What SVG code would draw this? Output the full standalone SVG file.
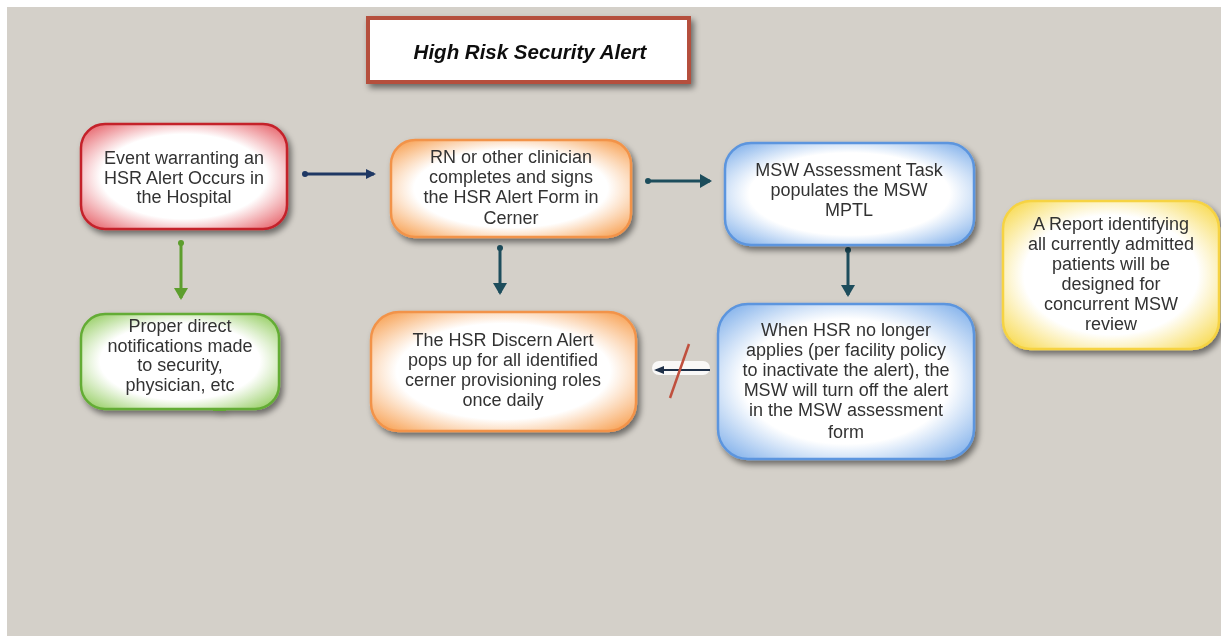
<svg xmlns="http://www.w3.org/2000/svg" width="1221" height="636" viewBox="0 0 1221 636">
<defs>
<style>
.t{font-family:"Liberation Sans",Arial,sans-serif;font-size:18px;fill:#333;text-anchor:middle}
.ti{font-family:"Liberation Sans",Arial,sans-serif;font-size:20.5px;font-weight:bold;font-style:italic;fill:#111;text-anchor:middle}
.box{stroke-width:2.5}
</style>
<filter id="sh" x="-20%" y="-20%" width="140%" height="150%">
<feGaussianBlur in="SourceAlpha" stdDeviation="3"/>
<feOffset dx="3" dy="4" result="b"/>
<feComponentTransfer><feFuncA type="linear" slope="0.5"/></feComponentTransfer>
<feMerge><feMergeNode/><feMergeNode in="SourceGraphic"/></feMerge>
</filter>
<radialGradient id="gr" cx="50%" cy="50%" r="65%"><stop offset="0.62" stop-color="#fff"/><stop offset="1" stop-color="#e86c73"/></radialGradient>
<radialGradient id="go" cx="50%" cy="50%" r="65%"><stop offset="0.62" stop-color="#fff"/><stop offset="1" stop-color="#f8a75e"/></radialGradient>
<radialGradient id="gb" cx="50%" cy="50%" r="65%"><stop offset="0.62" stop-color="#fff"/><stop offset="1" stop-color="#8ab6ec"/></radialGradient>
<radialGradient id="gg" cx="50%" cy="50%" r="65%"><stop offset="0.62" stop-color="#fff"/><stop offset="1" stop-color="#9bd06b"/></radialGradient>
<radialGradient id="gy" cx="50%" cy="50%" r="65%"><stop offset="0.62" stop-color="#fff"/><stop offset="1" stop-color="#f8dc5a"/></radialGradient>
<marker id="an" markerWidth="10" markerHeight="10" refX="8" refY="5" orient="auto" markerUnits="userSpaceOnUse"><path d="M0,0 L10,5 L0,10 z" fill="#1f3864"/></marker>
<marker id="at" markerWidth="14" markerHeight="14" refX="10" refY="7" orient="auto" markerUnits="userSpaceOnUse"><path d="M0,0 L12,7 L0,14 z" fill="#1d4d5c"/></marker>
<marker id="ag" markerWidth="14" markerHeight="14" refX="10" refY="7" orient="auto" markerUnits="userSpaceOnUse"><path d="M0,0 L12,7 L0,14 z" fill="#5d9e2d"/></marker>
<marker id="ak" markerWidth="10" markerHeight="10" refX="8" refY="5" orient="auto" markerUnits="userSpaceOnUse"><path d="M0,1 L10,5 L0,9 z" fill="#1f3048"/></marker>
</defs>
<rect x="0" y="0" width="1221" height="636" fill="#fff"/>
<rect x="7" y="7" width="1214" height="629" fill="#d4d0c9"/>

<g id="title" filter="url(#sh)">
<rect x="368" y="18" width="321" height="64" fill="#fff" stroke="#b5503e" stroke-width="4"/>
<text class="ti" x="530" y="59">High Risk Security Alert</text>
</g>

<g id="connectors">
<line x1="304" y1="174" x2="374" y2="174" stroke="#1f3864" stroke-width="3" marker-end="url(#an)"/>
<circle cx="305" cy="174" r="3" fill="#1f3864"/>
<line x1="647" y1="181" x2="710" y2="181" stroke="#1d4d5c" stroke-width="3" marker-end="url(#at)"/>
<circle cx="648" cy="181" r="3" fill="#1d4d5c"/>
<line x1="181" y1="243" x2="181" y2="298" stroke="#5d9e2d" stroke-width="3" marker-end="url(#ag)"/>
<circle cx="181" cy="243" r="3" fill="#5d9e2d"/>
<line x1="500" y1="248" x2="500" y2="293" stroke="#1d4d5c" stroke-width="3" marker-end="url(#at)"/>
<circle cx="500" cy="248" r="3" fill="#1d4d5c"/>
<line x1="848" y1="250" x2="848" y2="295" stroke="#1d4d5c" stroke-width="3" marker-end="url(#at)"/>
<circle cx="848" cy="250" r="3" fill="#1d4d5c"/>
<rect x="652" y="361" width="58" height="14" rx="7" fill="#fff" opacity="0.85"/>
<line x1="710" y1="370" x2="656" y2="370" stroke="#1f3048" stroke-width="2" marker-end="url(#ak)"/>
<line x1="689" y1="344" x2="670" y2="398" stroke="#c0503e" stroke-width="2.5"/>
</g>

<g id="n1" filter="url(#sh)">
<rect class="box" x="81" y="124" width="206" height="105" rx="24" fill="url(#gr)" stroke="#c4202a"/>
<text class="t" x="184" y="164">Event warranting an</text>
<text class="t" x="184" y="184">HSR Alert Occurs in</text>
<text class="t" x="184" y="203">the Hospital</text>
</g>

<g id="n2" filter="url(#sh)">
<rect class="box" x="391" y="140" width="240" height="97" rx="24" fill="url(#go)" stroke="#f2934a"/>
<text class="t" x="511" y="163">RN or other clinician</text>
<text class="t" x="511" y="183">completes and signs</text>
<text class="t" x="511" y="203">the HSR Alert Form in</text>
<text class="t" x="511" y="224">Cerner</text>
</g>

<g id="n3" filter="url(#sh)">
<rect class="box" x="725" y="143" width="249" height="102" rx="26" fill="url(#gb)" stroke="#5b95de"/>
<text class="t" x="849" y="176">MSW Assessment Task</text>
<text class="t" x="849" y="196">populates the MSW</text>
<text class="t" x="849" y="216">MPTL</text>
</g>

<g id="n4" filter="url(#sh)">
<rect class="box" x="81" y="314" width="198" height="95" rx="24" fill="url(#gg)" stroke="#64ac34"/>
<text class="t" x="180" y="332">Proper direct</text>
<text class="t" x="180" y="352">notifications made</text>
<text class="t" x="180" y="371">to security,</text>
<text class="t" x="180" y="391">physician, etc</text>
<line x1="213" y1="410" x2="226" y2="410" stroke="#64ac34" stroke-width="2"/>
</g>

<g id="n5" filter="url(#sh)">
<rect class="box" x="371" y="312" width="265" height="119" rx="28" fill="url(#go)" stroke="#f2934a"/>
<text class="t" x="503" y="346">The HSR Discern Alert</text>
<text class="t" x="503" y="366">pops up for all identified</text>
<text class="t" x="503" y="386">cerner provisioning roles</text>
<text class="t" x="503" y="406">once daily</text>
</g>

<g id="n6" filter="url(#sh)">
<rect class="box" x="718" y="304" width="256" height="155" rx="30" fill="url(#gb)" stroke="#5b95de"/>
<text class="t" x="846" y="336">When HSR no longer</text>
<text class="t" x="846" y="356">applies (per facility policy</text>
<text class="t" x="846" y="376">to inactivate the alert), the</text>
<text class="t" x="846" y="396">MSW will turn off the alert</text>
<text class="t" x="846" y="416">in the MSW assessment</text>
<text class="t" x="846" y="438">form</text>
</g>

<g id="n7" filter="url(#sh)">
<rect class="box" x="1003" y="201" width="216" height="148" rx="28" fill="url(#gy)" stroke="#f6d342"/>
<text class="t" x="1111" y="230">A Report identifying</text>
<text class="t" x="1111" y="250">all currently admitted</text>
<text class="t" x="1111" y="270">patients will be</text>
<text class="t" x="1111" y="290">designed for</text>
<text class="t" x="1111" y="310">concurrent MSW</text>
<text class="t" x="1111" y="330">review</text>
</g>
</svg>
